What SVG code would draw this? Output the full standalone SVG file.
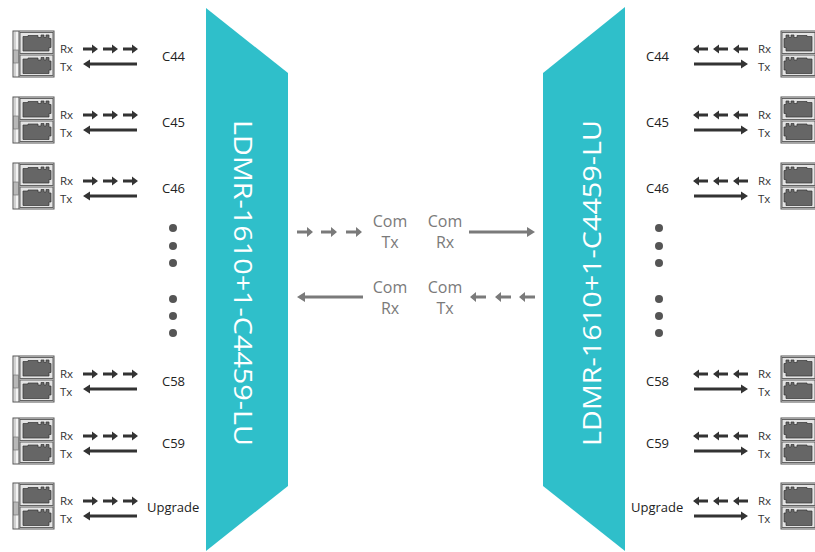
<svg xmlns="http://www.w3.org/2000/svg" xmlns:xlink="http://www.w3.org/1999/xlink" width="815" height="552" viewBox="0 0 815 552">
<style>
.mux{fill:#2fbfca}
.vt{font-family:"Open Sans","Noto Sans",sans-serif;font-size:25px;fill:#ffffff}
.port{font-family:"Open Sans","Noto Sans",sans-serif;font-size:11.5px;fill:#333}
.ch{font-family:"Open Sans","Noto Sans",sans-serif;font-size:13px;fill:#222}
.com{font-family:"Open Sans","Noto Sans",sans-serif;font-size:16px;fill:#7a7a7a;text-anchor:middle}
.dot{fill:#555}
</style>
<defs>
<g id="plug">
<path d="M3,4 H8 V3 H18 V5 H21 V2.5 H24 V5 H26 V2.5 H29 V6 H31 V15 H29 V18.5 H3 Z" fill="#666" stroke="#333" stroke-width="0.7"/>
</g>
<g id="lc">
<rect x="13" y="0" width="41" height="46" fill="#f3f3f3" stroke="#555" stroke-width="1"/>
<line x1="19" y1="0" x2="19" y2="46" stroke="#555" stroke-width="1"/>
<line x1="15" y1="0" x2="15" y2="46" stroke="#888" stroke-width="0.6"/>
<rect x="13.5" y="19" width="5" height="13" fill="#b8b8b8" stroke="#666" stroke-width="0.6"/>
<rect x="20" y="1.5" width="33" height="21" fill="#e4e4e4" stroke="#555" stroke-width="0.9"/>
<rect x="20" y="24" width="33" height="20.5" fill="#e4e4e4" stroke="#555" stroke-width="0.9"/>
<use xlink:href="#plug" transform="translate(20,1.5)"/>
<use xlink:href="#plug" transform="translate(20,24)"/>
</g>
<polygon id="seg" points="0,-1.5 9,-1.5 9,-4.5 15,0 9,4.5 9,1.5 0,1.5"/>
<g id="dash3">
<use xlink:href="#seg"/>
<use xlink:href="#seg" x="20"/>
<use xlink:href="#seg" x="40"/>
</g>
<polygon id="solidL" points="0,0 7,-4.5 7,-1.5 54,-1.5 54,1.5 7,1.5 7,4.5"/>
<polygon id="gseg" points="0,-1.5 10,-1.5 10,-5 16,0 10,5 10,1.5 0,1.5"/>
<g id="gdash3">
<use xlink:href="#gseg"/>
<use xlink:href="#gseg" x="24"/>
<use xlink:href="#gseg" x="49"/>
</g>
<polygon id="gsolidL" points="0,0 8,-5 8,-1.5 66,-1.5 66,1.5 8,1.5 8,5"/>
</defs>

<g id="mux-left">
<polygon class="mux" points="206,8 288,73 288,486 206,551"/>
<text class="vt" transform="translate(234,283) rotate(90)" text-anchor="middle" textLength="326" lengthAdjust="spacingAndGlyphs">LDMR-1610+1-C4459-LU</text>
</g>
<g id="mux-right">
<polygon class="mux" points="625,7 543,73 543,486 625,551"/>
<text class="vt" transform="translate(601,283) rotate(-90)" text-anchor="middle" textLength="326" lengthAdjust="spacingAndGlyphs">LDMR-1610+1-C4459-LU</text>
</g>

<g id="left-ports">
<g id="l-c44" transform="translate(0,31)"><use xlink:href="#lc"/><text class="port" x="60" y="22">Rx</text><text class="port" x="60" y="40">Tx</text><text class="ch" x="162" y="30">C44</text></g>
<g id="l-c45" transform="translate(0,97)"><use xlink:href="#lc"/><text class="port" x="60" y="22">Rx</text><text class="port" x="60" y="40">Tx</text><text class="ch" x="162" y="30">C45</text></g>
<g id="l-c46" transform="translate(0,163)"><use xlink:href="#lc"/><text class="port" x="60" y="22">Rx</text><text class="port" x="60" y="40">Tx</text><text class="ch" x="162" y="30">C46</text></g>
<g id="l-c58" transform="translate(0,356)"><use xlink:href="#lc"/><text class="port" x="60" y="22">Rx</text><text class="port" x="60" y="40">Tx</text><text class="ch" x="162" y="30">C58</text></g>
<g id="l-c59" transform="translate(0,418)"><use xlink:href="#lc"/><text class="port" x="60" y="22">Rx</text><text class="port" x="60" y="40">Tx</text><text class="ch" x="162" y="30">C59</text></g>
<g id="l-up" transform="translate(0,483)"><use xlink:href="#lc"/><text class="port" x="60" y="22">Rx</text><text class="port" x="60" y="40">Tx</text><text class="ch" x="147" y="29">Upgrade</text></g>
<g id="l-dots"><circle class="dot" cx="173" cy="228" r="4"/><circle class="dot" cx="173" cy="246" r="4"/><circle class="dot" cx="173" cy="263" r="4"/><circle class="dot" cx="173" cy="299" r="4"/><circle class="dot" cx="173" cy="316" r="4"/><circle class="dot" cx="173" cy="333" r="4"/></g>
</g>

<g id="right-ports">
<g id="r-c44" transform="translate(0,31)"><use xlink:href="#lc" transform="translate(835,0) scale(-1,1)"/><text class="port" x="758" y="22">Rx</text><text class="port" x="758" y="40">Tx</text><text class="ch" x="646" y="30">C44</text></g>
<g id="r-c45" transform="translate(0,97)"><use xlink:href="#lc" transform="translate(835,0) scale(-1,1)"/><text class="port" x="758" y="22">Rx</text><text class="port" x="758" y="40">Tx</text><text class="ch" x="646" y="30">C45</text></g>
<g id="r-c46" transform="translate(0,163)"><use xlink:href="#lc" transform="translate(835,0) scale(-1,1)"/><text class="port" x="758" y="22">Rx</text><text class="port" x="758" y="40">Tx</text><text class="ch" x="646" y="30">C46</text></g>
<g id="r-c58" transform="translate(0,356)"><use xlink:href="#lc" transform="translate(835,0) scale(-1,1)"/><text class="port" x="758" y="22">Rx</text><text class="port" x="758" y="40">Tx</text><text class="ch" x="646" y="30">C58</text></g>
<g id="r-c59" transform="translate(0,418)"><use xlink:href="#lc" transform="translate(835,0) scale(-1,1)"/><text class="port" x="758" y="22">Rx</text><text class="port" x="758" y="40">Tx</text><text class="ch" x="646" y="30">C59</text></g>
<g id="r-up" transform="translate(0,483)"><use xlink:href="#lc" transform="translate(835,0) scale(-1,1)"/><text class="port" x="758" y="22">Rx</text><text class="port" x="758" y="40">Tx</text><text class="ch" x="631" y="29">Upgrade</text></g>
<g id="r-dots"><circle class="dot" cx="659" cy="228" r="4"/><circle class="dot" cx="659" cy="246" r="4"/><circle class="dot" cx="659" cy="263" r="4"/><circle class="dot" cx="659" cy="299" r="4"/><circle class="dot" cx="659" cy="316" r="4"/><circle class="dot" cx="659" cy="333" r="4"/></g>
</g>

<g id="com-labels">
<text class="com" x="390" y="227">Com</text><text class="com" x="390" y="248">Tx</text>
<text class="com" x="445" y="227">Com</text><text class="com" x="445" y="248">Rx</text>
<text class="com" x="390" y="293">Com</text><text class="com" x="390" y="314">Rx</text>
<text class="com" x="445" y="293">Com</text><text class="com" x="445" y="314">Tx</text>
</g>

<g id="connectors">
<g fill="#333">
<use xlink:href="#dash3" transform="translate(83,49)"/><use xlink:href="#solidL" transform="translate(83,64)"/>
<use xlink:href="#dash3" transform="translate(83,115)"/><use xlink:href="#solidL" transform="translate(83,130)"/>
<use xlink:href="#dash3" transform="translate(83,181)"/><use xlink:href="#solidL" transform="translate(83,196)"/>
<use xlink:href="#dash3" transform="translate(83,374)"/><use xlink:href="#solidL" transform="translate(83,389)"/>
<use xlink:href="#dash3" transform="translate(83,436)"/><use xlink:href="#solidL" transform="translate(83,451)"/>
<use xlink:href="#dash3" transform="translate(83,501)"/><use xlink:href="#solidL" transform="translate(83,516)"/>
<use xlink:href="#dash3" transform="translate(748,49) scale(-1,1)"/><use xlink:href="#solidL" transform="translate(748,64) scale(-1,1)"/>
<use xlink:href="#dash3" transform="translate(748,115) scale(-1,1)"/><use xlink:href="#solidL" transform="translate(748,130) scale(-1,1)"/>
<use xlink:href="#dash3" transform="translate(748,181) scale(-1,1)"/><use xlink:href="#solidL" transform="translate(748,196) scale(-1,1)"/>
<use xlink:href="#dash3" transform="translate(748,374) scale(-1,1)"/><use xlink:href="#solidL" transform="translate(748,389) scale(-1,1)"/>
<use xlink:href="#dash3" transform="translate(748,436) scale(-1,1)"/><use xlink:href="#solidL" transform="translate(748,451) scale(-1,1)"/>
<use xlink:href="#dash3" transform="translate(748,501) scale(-1,1)"/><use xlink:href="#solidL" transform="translate(748,516) scale(-1,1)"/>
</g>
<g fill="#7a7a7a">
<use xlink:href="#gdash3" transform="translate(297,232)"/>
<use xlink:href="#gsolidL" transform="translate(535,232) scale(-1,1)"/>
<use xlink:href="#gsolidL" transform="translate(297,297)"/>
<use xlink:href="#gdash3" transform="translate(535,297) scale(-1,1)"/>
</g>
</g>
</svg>
